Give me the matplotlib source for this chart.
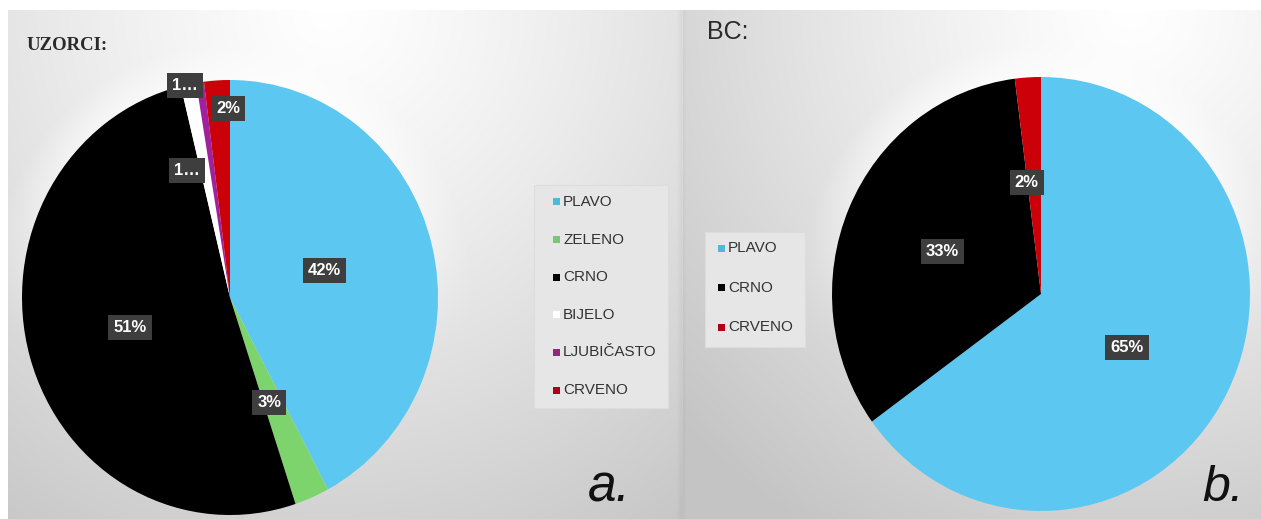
import matplotlib
matplotlib.use("Agg")
import matplotlib.pyplot as plt
import numpy as np
from matplotlib.patches import Rectangle

W, H = 1261, 519

# data
cats_a = ["PLAVO", "ZELENO", "CRNO", "BIJELO", "LJUBIČASTO", "CRVENO"]
vals_a = [42.2, 2.7, 51.3, 1.2, 0.6, 2.0]
cats_b = ["PLAVO", "CRNO", "CRVENO"]
vals_b = [65, 33, 2]

colors = {
    "PLAVO": "#5CC8F2",
    "ZELENO": "#7ED46C",
    "CRNO": "#000000",
    "BIJELO": "#FFFFFF",
    "LJUBIČASTO": "#A0209E",
    "CRVENO": "#CC0008",
}
legend_colors = {"PLAVO": "#52B8D8", "ZELENO": "#7CC47A", "CRNO": "#000000",
                 "BIJELO": "#FFFFFF", "LJUBIČASTO": "#8E2A7E", "CRVENO": "#B00018"}

# label placement per slice: (distance from centre, angle shift in degrees)
lab_a = [(0.47, 1.5), (0.52, -2), (0.50, 0), (1.0, 1), (0.62, 11), (0.87, -3)]
lab_b = [(0.48, -4), (0.51, 1), (0.52, 4)]

FONT = ["Liberation Sans", "DejaVu Sans"]


def fx(x):
    return x / W


def fy(y):
    return 1 - y / H


def background(fig):
    yy, xx = np.mgrid[0:H, 0:W].astype(float)
    img = np.ones((H, W))
    left = (xx >= 8) & (xx < 683) & (yy >= 10)
    right = (xx >= 683) & (yy >= 10)
    d_l = np.hypot(xx - 330, yy - 10) / 640
    d_r = np.hypot(xx - 1130, yy - 10) / 610
    b_l = 1 - 0.23 * np.clip(d_l, 0, 1) ** 1.2
    b_r = 1 - 0.23 * np.clip(d_r, 0, 1) ** 1.2
    img[left] = b_l[left]
    img[right] = b_r[right]
    # soft glow round the upper part of the pies
    for cx, cy, rx, ry, m in [(230, 297.5, 208, 217.5, left), (1041, 294, 209, 217, right)]:
        rr = np.hypot((xx - cx) / rx, (yy - cy) / ry)
        e = (rr - 1) * 212
        up = np.clip((cy + 0.2 * ry - yy) / ry, 0, 1)
        g = np.clip(1 - e / 35, 0, 1) * (e > 0) * 0.6 * up
        img[m] = img[m] + (1 - img[m]) * g[m]
    # darker seam between the two panels
    seam = (xx >= 676) & (xx < 686) & (yy >= 10)
    img[seam] = img[seam] - 0.035 * (1 - np.abs(xx[seam] - 681) / 5)
    bg = fig.add_axes([0, 0, 1, 1])
    bg.imshow(np.dstack([img] * 3), extent=[0, W, H, 0], interpolation="bilinear")
    bg.set_xlim(0, W)
    bg.set_ylim(H, 0)
    bg.axis("off")


def draw_pie(fig, cx, cy, rx, ry, cats, vals, labs):
    # picture is slightly stretched vertically, so the pie is drawn in a non-square box
    ax = fig.add_axes([fx(cx - rx), fy(cy + ry), 2 * rx / W, 2 * ry / H])
    wedges, _ = ax.pie(vals, colors=[colors[c] for c in cats], startangle=90,
                       counterclock=False, radius=1,
                       wedgeprops=dict(linewidth=0, antialiased=True))
    for w, v, (dist, shift) in zip(wedges, vals, labs):
        mid = np.deg2rad((w.theta1 + w.theta2) / 2 + shift)
        txt = f"{round(v)}%" if v >= 1.5 else f"{round(v)}…"
        ax.text(dist * np.cos(mid), dist * np.sin(mid), txt, ha="center", va="center",
                color="white", fontsize=12, fontweight="bold", family=FONT,
                bbox=dict(boxstyle="square,pad=0.3", fc="#3E3E3E", ec="none"))
    ax.set_aspect("auto")
    ax.set_xlim(-1, 1)
    ax.set_ylim(-1, 1)
    ax.axis("off")


def draw_legend(fig, x0, y0, w, h, cats, first, step, mx):
    fig.patches.append(Rectangle((fx(x0), fy(y0 + h)), w / W, h / H, transform=fig.transFigure,
                                 fc="#E6E6E6", ec="#DDDDDD", lw=0.8))
    for i, c in enumerate(cats):
        y = first + i * step
        fig.patches.append(Rectangle((fx(mx - 3.5), fy(y + 3.5)), 7 / W, 7 / H,
                                     transform=fig.transFigure, fc=legend_colors[c], ec="none"))
        fig.text(fx(mx + 7), fy(y), c, ha="left", va="center", fontsize=11,
                 color="#333333", family=FONT)


fig = plt.figure(figsize=(W / 100, H / 100), dpi=100)
background(fig)

draw_pie(fig, 230, 297.5, 208, 217.5, cats_a, vals_a, lab_a)
draw_pie(fig, 1041, 294, 209, 217, cats_b, vals_b, lab_b)

draw_legend(fig, 534, 185, 134, 223, cats_a, 202, 37.6, 556)
draw_legend(fig, 705, 232, 100, 115, cats_b, 248, 39.5, 721)

fig.text(fx(27), fy(46), "UZORCI:", ha="left", va="center", fontsize=13.5,
         fontweight="bold", color="#2A2A2A", family=["Liberation Serif", "DejaVu Serif"])
fig.text(fx(707), fy(32), "BC:", ha="left", va="center", fontsize=18,
         color="#2A2A2A", family=FONT)
fig.text(fx(609), fy(488), "a.", ha="center", va="center", fontsize=37,
         style="italic", color="#111111", family=FONT)
fig.text(fx(1223), fy(488), "b.", ha="center", va="center", fontsize=36,
         style="italic", color="#111111", family=FONT)

fig.savefig("out.png", dpi=100)
